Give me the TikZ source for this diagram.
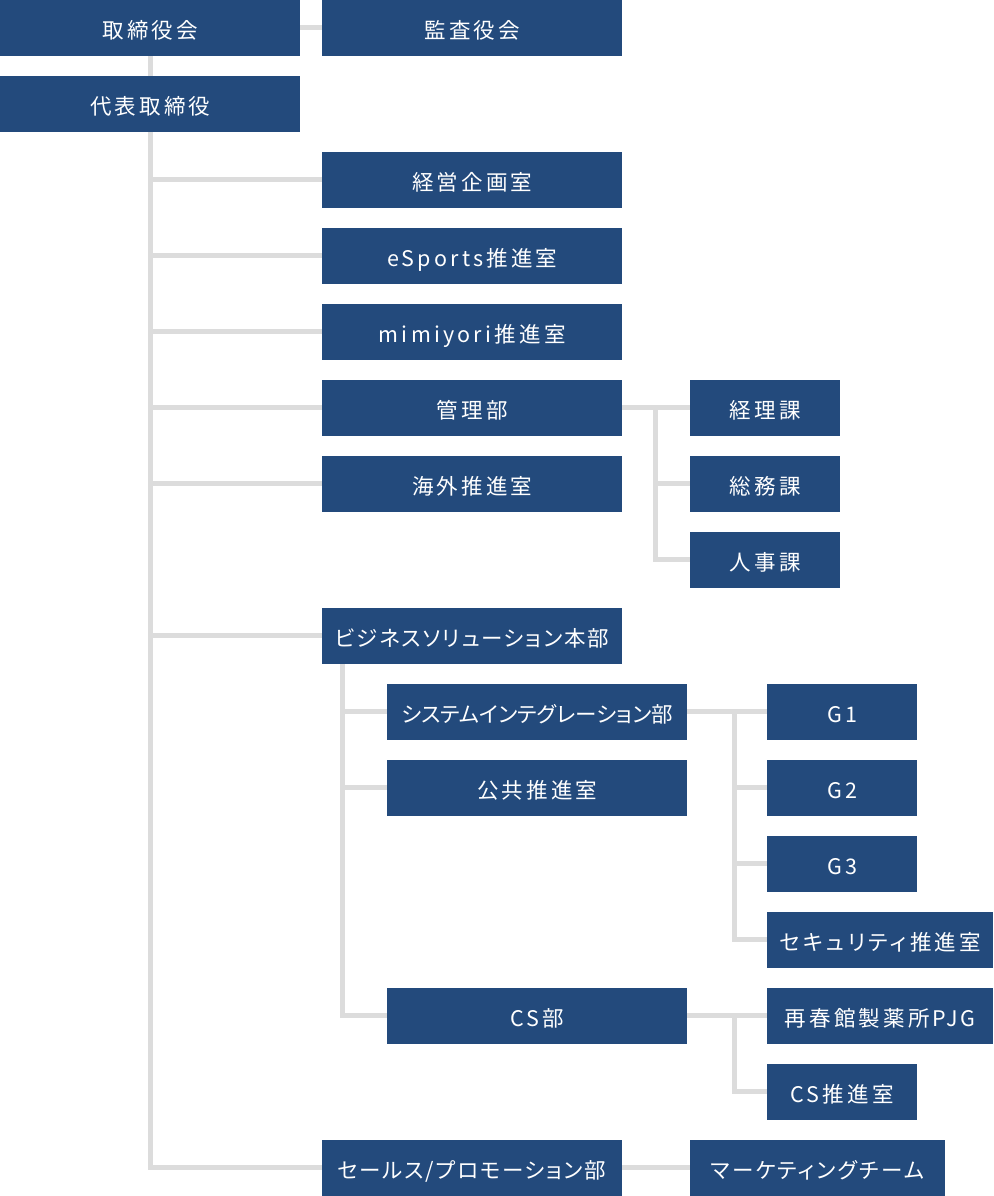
\documentclass[tikz,border=0pt]{standalone}
\usepackage{fontspec}
\usetikzlibrary{backgrounds}
\newfontfamily\jp[LetterSpace=15,RawFeature=+palt]{Noto Sans CJK JP}
\newfontfamily\jpn[LetterSpace=8,RawFeature=+palt]{Noto Sans CJK JP}
\newfontfamily\jpm[LetterSpace=10,RawFeature=+palt]{Noto Sans CJK JP}
\newfontfamily\jpt[LetterSpace=0,RawFeature=+palt]{Noto Sans CJK JP}
\definecolor{boxblue}{RGB}{35,74,124}
\definecolor{linegray}{RGB}{220,220,220}
\tikzset{
  orgbox/.style={rectangle, fill=boxblue, text=white, anchor=north west, inner sep=0pt,
    minimum height=55.5pt, minimum width=300pt, text height=21pt, text depth=0pt,
    font=\jp\fontsize{21.5}{24}\selectfont},
  narrowtext/.style={font=\jpn\fontsize{21.5}{24}\selectfont},
  midtext/.style={font=\jpm\fontsize{21.5}{24}\selectfont},
  tighttext/.style={font=\jpt\fontsize{21.5}{24}\selectfont},
  small/.style={minimum width=150pt},
  conn/.style={draw=linegray, line width=5pt}
}
\begin{document}
\begin{tikzpicture}[x=1pt,y=-1pt]
\useasboundingbox (0,0) rectangle (993,1196);
% nodes
\node[orgbox] (tori) at (0,0) {取締役会};
\node[orgbox] (kansa) at (322,0) {監査役会};
\node[orgbox] (daihyo) at (0,76) {代表取締役};
\node[orgbox] (keiei) at (322,152) {経営企画室};
\node[orgbox] (esports) at (322,228) {eSports推進室};
\node[orgbox] (mimi) at (322,304) {mimiyori推進室};
\node[orgbox] (kanri) at (322,380) {管理部};
\node[orgbox] (kaigai) at (322,456) {海外推進室};
\node[orgbox,small] (keiri) at (690,380) {経理課};
\node[orgbox,small] (somu) at (690,456) {総務課};
\node[orgbox,small] (jinji) at (690,532) {人事課};
\node[orgbox,narrowtext] (biz) at (322,608) {ビジネスソリューション本部};
\node[orgbox,tighttext] (si) at (387,684) {システムインテグレーション部};
\node[orgbox] (kokyo) at (387,760) {公共推進室};
\node[orgbox,small] (g1) at (767,684) {G1};
\node[orgbox,small] (g2) at (767,760) {G2};
\node[orgbox,small] (g3) at (767,836) {G3};
\node[orgbox,minimum width=226pt] (sec) at (767,912) {セキュリティ推進室};
\node[orgbox] (cs) at (387,988) {CS部};
\node[orgbox,minimum width=226pt] (saishun) at (767,988) {再春館製薬所PJG};
\node[orgbox,small] (csp) at (767,1064) {CS推進室};
\node[orgbox,narrowtext] (sales) at (322,1140) {セールス/プロモーション部};
\node[orgbox,midtext,minimum width=255pt] (mkt) at (690,1140) {マーケティングチーム};
% connector coordinates
\coordinate (k1) at (655,407.75);
\coordinate (b1) at (342,663.5);
\coordinate (s1) at (734,711.75);
\coordinate (c1) at (734,1015.75);
% connectors
\begin{scope}[on background layer]
\draw[conn] (tori.east) -- (kansa.west);
\draw[conn] (tori.south) -- (daihyo.north);
\draw[conn] (daihyo.south) |- (sales.west);
\draw[conn] (daihyo.south) |- (keiei.west);
\draw[conn] (daihyo.south) |- (esports.west);
\draw[conn] (daihyo.south) |- (mimi.west);
\draw[conn] (daihyo.south) |- (kanri.west);
\draw[conn] (daihyo.south) |- (kaigai.west);
\draw[conn] (daihyo.south) |- (biz.west);
\draw[conn] (kanri.east) -- (keiri.west);
\draw[conn] (k1) |- (somu.west);
\draw[conn] (k1) |- (jinji.west);
\draw[conn] (b1) |- (si.west);
\draw[conn] (b1) |- (kokyo.west);
\draw[conn] (b1) |- (cs.west);
\draw[conn] (si.east) -- (g1.west);
\draw[conn] (s1) |- (g2.west);
\draw[conn] (s1) |- (g3.west);
\draw[conn] (s1) |- (sec.west);
\draw[conn] (cs.east) -- (saishun.west);
\draw[conn] (c1) |- (csp.west);
\draw[conn] (sales.east) -- (mkt.west);
\end{scope}
\end{tikzpicture}
\end{document}
